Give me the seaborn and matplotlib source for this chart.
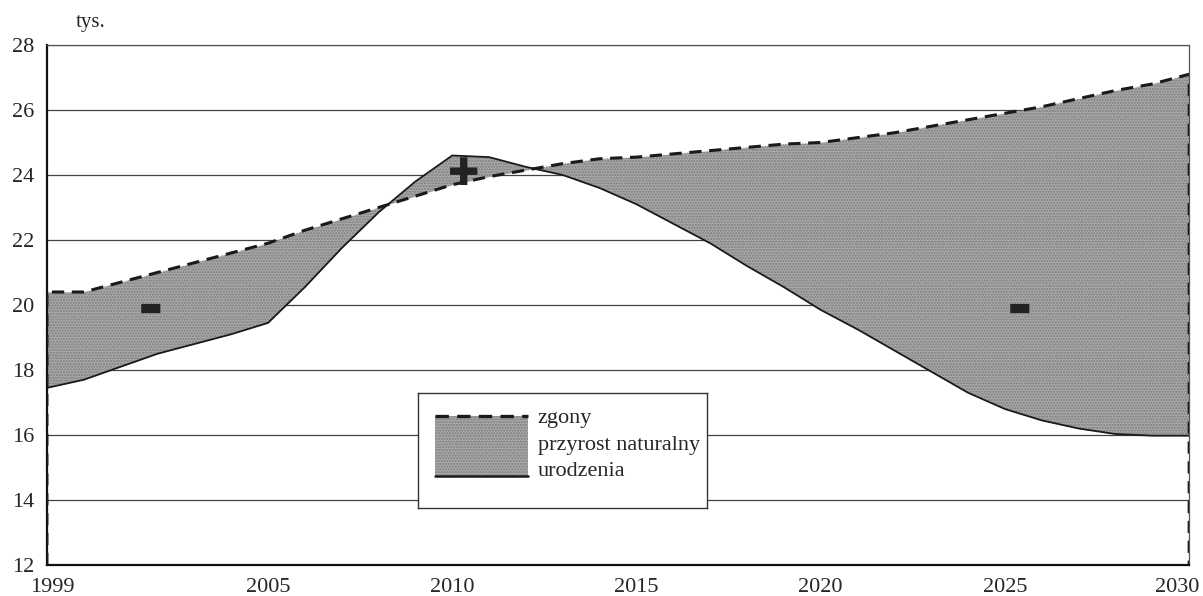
import numpy as np
import pandas as pd
import matplotlib
matplotlib.use("Agg")
import matplotlib.pyplot as plt
import matplotlib.transforms as mtrans
import seaborn as sns

# lata prognozy
years = list(range(1999, 2031))

# zgony (tys.)
deaths = [20.4, 20.4, 20.7, 21.0, 21.3, 21.6, 21.9, 22.3, 22.65, 23.0,
          23.35, 23.7, 23.95, 24.15, 24.35, 24.5, 24.55, 24.65, 24.75, 24.85,
          24.95, 25.0, 25.15, 25.3, 25.5, 25.7, 25.9, 26.1, 26.35, 26.6,
          26.8, 27.1]

# urodzenia (tys.)
births = [17.45, 17.7, 18.1, 18.5, 18.8, 19.1, 19.45, 20.55, 21.75, 22.85,
          23.8, 24.6, 24.55, 24.25, 24.0, 23.6, 23.1, 22.5, 21.9, 21.2,
          20.55, 19.85, 19.25, 18.6, 17.95, 17.3, 16.8, 16.45, 16.2, 16.03,
          15.98, 15.98]

xtick_labels = [1999, 2005, 2010, 2015, 2020, 2025, 2030]
ytick_labels = [12, 14, 16, 18, 20, 22, 24, 26, 28]
legend_labels = ["zgony", "przyrost naturalny", "urodzenia"]

df = pd.DataFrame({"rok": years, "zgony": deaths, "urodzenia": births})

sns.set_style("white")
plt.rcParams["font.family"] = ["Liberation Serif", "DejaVu Serif"]

fig = plt.figure(figsize=(12.03, 5.96), dpi=100)
ax = fig.add_axes([0.039, 0.052, 0.9495, 0.8725])

fill_col = "#a9a9a9"
ax.fill_between(df["rok"], df["urodzenia"], df["zgony"], color=fill_col, lw=0, zorder=2)
ax.fill_between(df["rok"], df["urodzenia"], df["zgony"], facecolor="none",
                edgecolor="#7c7c7c", hatch="......", lw=0, zorder=2)

# zgony - linia przerywana, z krawedziami do osi
edge = pd.DataFrame({"rok": [years[0]] + years + [years[-1]],
                     "val": [ytick_labels[0]] + deaths + [ytick_labels[0]]})
ax.plot(edge["rok"], edge["val"], color="#1a1a1a", lw=2.2, ls=(0, (4, 2.5)), zorder=4)
sns.lineplot(data=df, x="rok", y="urodzenia", color="#1a1a1a", lw=1.3, ax=ax, zorder=4)

ax.set_xlim(years[0], years[-1])
ax.set_ylim(ytick_labels[0], ytick_labels[-1])
ax.set_xticks(xtick_labels)
ax.set_xticks(years, minor=True)
ax.set_yticks(ytick_labels)
ax.set_xticklabels([str(v) for v in xtick_labels], fontsize=16)
ax.set_yticklabels([str(v) for v in ytick_labels], fontsize=16)
ax.tick_params(axis="x", which="both", direction="out", length=4, width=1.2, color="#222", pad=5)
ax.tick_params(axis="y", direction="out", length=4, width=1.2, color="#222", pad=5)
# krańcowe etykiety lekko przesunięte jak w oryginale
xl = ax.get_xticklabels()
xl[0].set_transform(xl[0].get_transform() + mtrans.ScaledTranslation(5 / 100, 0, fig.dpi_scale_trans))
xl[-1].set_transform(xl[-1].get_transform() + mtrans.ScaledTranslation(-12 / 100, 0, fig.dpi_scale_trans))
ax.set_xlabel("")
ax.set_ylabel("")
ax.grid(axis="y", color="#444", lw=0.9, zorder=1)
ax.set_axisbelow(True)
for s in ["left", "bottom"]:
    ax.spines[s].set_color("#111")
    ax.spines[s].set_linewidth(1.6)
for s in ["top", "right"]:
    ax.spines[s].set_color("#555")
    ax.spines[s].set_linewidth(0.9)

fig.text(0.075, 0.962, "tys.", fontsize=15, ha="center", va="center")

# znaki przyrostu
for xx, yy in [(2001.8, 19.9), (2025.4, 19.9)]:
    ax.text(xx, yy, "\u25ac", fontsize=18, family="DejaVu Sans",
            ha="center", va="center", color="#222", zorder=5)
ax.text(2010.3, 24.0, "\u271a", fontsize=27, family="DejaVu Sans",
        ha="center", va="center", color="#222", zorder=5)

# legenda
lax = fig.add_axes([0.3475, 0.1477, 0.240, 0.193])
lax.set_xlim(0, 1)
lax.set_ylim(0, 1)
lax.set_xticks([])
lax.set_yticks([])
for s in lax.spines.values():
    s.set_color("#333")
    s.set_linewidth(1.0)
lax.fill_between([0.06, 0.38], [0.28, 0.28], [0.80, 0.80], color=fill_col, lw=0)
lax.fill_between([0.06, 0.38], [0.28, 0.28], [0.80, 0.80], facecolor="none",
                 edgecolor="#7c7c7c", hatch="......", lw=0)
lax.plot([0.06, 0.38], [0.80, 0.80], color="#1a1a1a", lw=2.4, ls=(0, (4, 2.5)))
lax.plot([0.06, 0.38], [0.28, 0.28], color="#1a1a1a", lw=1.8)
for lbl, yy in zip(legend_labels, [0.78, 0.545, 0.32]):
    lax.text(0.415, yy, lbl, fontsize=16, ha="left", va="center", transform=lax.transAxes)

plt.savefig("out.png", dpi=100)
plt.close()
